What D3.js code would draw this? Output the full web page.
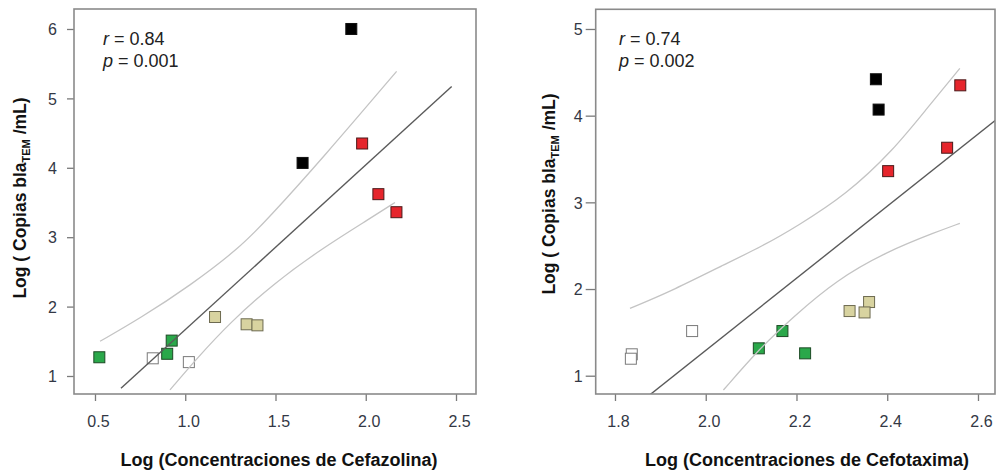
<!DOCTYPE html>
<html>
<head>
<meta charset="utf-8">
<script src="https://cdn.jsdelivr.net/npm/d3@7"></script>
<style>
  html, body { margin: 0; padding: 0; background: #fff; }
  svg { display: block; font-family: "Liberation Sans", Arial, sans-serif; }
  .tick text { fill: #333845; font-size: 16px; }
  .tick line { stroke: #7a7a7a; stroke-width: 1.3; }
</style>
</head>
<body>
<div id="root"></div>
<script>
// Panel A: Cefazolina
const cefazolinaLog = [1.92, 1.65, 1.98, 2.07, 2.17, 1.165, 1.34, 1.40, 0.524, 0.90, 0.925, 0.82, 1.02];
const copiasA       = [6.00, 4.07, 4.35, 3.62, 3.36, 1.85, 1.745, 1.73, 1.27, 1.32, 1.51, 1.255, 1.20];
const grupoA        = ["negro","negro","rojo","rojo","rojo","beige","beige","beige","verde","verde","verde","blanco","blanco"];
const ajusteAX = [0.644, 2.476];
const ajusteAY = [0.823, 5.17];
const bandaSupAX = [0.528, 0.749, 1.026, 1.303, 1.453, 1.765, 2.171];
const bandaSupAY = [1.50, 1.83, 2.30, 2.85, 3.25, 4.15, 5.39];
const bandaInfAX = [0.9155, 1.063, 1.248, 1.488, 1.765, 2.024, 2.162];
const bandaInfAY = [0.80, 1.25, 1.77, 2.33, 2.85, 3.27, 3.50];
const ticksAX = [0.5, 1.0, 1.5, 2.0, 2.5];
const ticksAY = [1, 2, 3, 4, 5, 6];

// Panel B: Cefotaxima
const cefotaximaLog = [2.375, 2.381, 2.561, 2.532, 2.402, 2.317, 2.36, 2.35, 2.117, 2.169, 2.219, 1.970, 1.837, 1.835];
const copiasB       = [4.42, 4.07, 4.35, 3.63, 3.36, 1.746, 1.85, 1.73, 1.316, 1.515, 1.258, 1.515, 1.247, 1.196];
const grupoB        = ["negro","negro","rojo","rojo","rojo","beige","beige","beige","verde","verde","verde","blanco","blanco","blanco"];
const ajusteBX = [1.877, 2.639];
const ajusteBY = [0.78, 3.95];
const bandaSupBX = [1.833, 1.921, 2.031, 2.127, 2.2, 2.31, 2.413, 2.487, 2.56];
const bandaSupBY = [1.777, 1.969, 2.257, 2.50, 2.72, 3.09, 3.60, 4.08, 4.546];
const bandaInfBX = [2.039, 2.119, 2.193, 2.288, 2.398, 2.509, 2.56];
const bandaInfBY = [0.835, 1.316, 1.68, 2.104, 2.43, 2.66, 2.758];
const ticksBX = [1.8, 2.0, 2.2, 2.4, 2.6];
const ticksBY = [1, 2, 3, 4, 5];

const colores = { negro: "#000000", rojo: "#e6252c", beige: "#d8d3a0", verde: "#2aa84a", blanco: "#ffffff" };
const bordes  = { negro: "#111111", rojo: "#4a1a1a", beige: "#6d6a50", verde: "#1d4a25", blanco: "#7a7a7a" };

const W = 996, H = 473;
const svg = d3.select('#root').append('svg')
  .attr('width', W)
  .attr('height', H);

function zip(xs, ys) { return xs.map((x, i) => [x, ys[i]]); }

function drawPanel(o) {
  const x = d3.scaleLinear().domain(o.xDomain).range([o.left, o.right]);
  const y = d3.scaleLinear().domain(o.yDomain).range([o.bottom, o.top]);
  const g = svg.append('g').attr('class', 'panel');

  g.append('clipPath').attr('id', o.id + '-clip')
    .append('rect')
    .attr('x', o.left).attr('y', o.top)
    .attr('width', o.right - o.left).attr('height', o.bottom - o.top);

  // axes (ticks only, box drawn separately)
  const yAxis = d3.axisLeft(y).tickValues(o.yTicks).tickFormat(d3.format('d'))
    .tickSize(o.yTickSize).tickPadding(o.yTickPad);
  g.append('g').attr('transform', 'translate(' + o.left + ',0)').call(yAxis)
    .call(s => s.select('.domain').remove())
    .selectAll('text').attr('dy', '0.36em');

  const xAxis = d3.axisBottom(x).tickValues(o.xTicks).tickFormat(d3.format('.1f'))
    .tickSize(7).tickPadding(15);
  g.append('g').attr('transform', 'translate(0,' + o.bottom + ')').call(xAxis)
    .call(s => s.select('.domain').remove())
    .selectAll('text').attr('dx', 3);

  // points
  const pts = o.xs.map((v, i) => ({ x: v, y: o.ys[i], grupo: o.grupos[i] }));
  g.append('g').selectAll('rect.pt')
    .data(pts)
    .enter().append('rect')
    .attr('class', 'pt')
    .attr('x', d => x(d.x) - 5.5)
    .attr('y', d => y(d.y) - 5.5)
    .attr('width', 11)
    .attr('height', 11)
    .attr('fill', d => colores[d.grupo])
    .attr('stroke', d => bordes[d.grupo])
    .attr('stroke-width', 1);

  const line = d3.line().x(d => x(d[0])).y(d => y(d[1]));
  const curve = d3.line().x(d => x(d[0])).y(d => y(d[1])).curve(d3.curveBasis);

  const lines = g.append('g').attr('clip-path', 'url(#' + o.id + '-clip)');
  lines.append('path').datum(zip(o.supX, o.supY))
    .attr('d', curve).attr('fill', 'none')
    .attr('stroke', '#c4c4c4').attr('stroke-width', 1.3);
  lines.append('path').datum(zip(o.infX, o.infY))
    .attr('d', curve).attr('fill', 'none')
    .attr('stroke', '#c4c4c4').attr('stroke-width', 1.3);
  lines.append('path').datum(zip(o.fitX, o.fitY))
    .attr('d', line).attr('fill', 'none')
    .attr('stroke', '#5a5a5a').attr('stroke-width', 1.4);

  // box
  g.append('rect')
    .attr('x', o.left).attr('y', o.top)
    .attr('width', o.right - o.left).attr('height', o.bottom - o.top)
    .attr('fill', 'none').attr('stroke', '#8a8a8a').attr('stroke-width', 1.6);

  // r / p
  const ann = g.append('g').attr('font-size', 18).attr('fill', '#222');
  const t1 = ann.append('text').attr('x', o.annX).attr('y', 45);
  t1.append('tspan').attr('font-style', 'italic').text('r');
  t1.append('tspan').text(' = ' + o.r);
  const t2 = ann.append('text').attr('x', o.annX).attr('y', 67);
  t2.append('tspan').attr('font-style', 'italic').text('p');
  t2.append('tspan').text(' = ' + o.p);

  // axis titles
  g.append('text')
    .attr('x', o.xTitleX).attr('y', 466)
    .attr('text-anchor', 'middle')
    .attr('font-weight', 'bold').attr('font-size', 18).attr('fill', '#111')
    .text(o.xTitle);

  const yt = g.append('text')
    .attr('transform', 'translate(' + o.yTitleX + ',' + o.yTitleY + ') rotate(-90)')
    .attr('text-anchor', 'middle')
    .attr('font-weight', 'bold').attr('font-size', 17.5).attr('fill', '#111');
  yt.append('tspan').text('Log ( Copias bla');
  yt.append('tspan').attr('font-size', 11).attr('dy', 4).text('TEM');
  yt.append('tspan').attr('dy', -4).text(' /mL)');
}

drawPanel({
  id: 'a', left: 74, right: 476, top: 9, bottom: 394,
  xDomain: [0.3837, 2.6108], yDomain: [0.7406, 6.288],
  xTicks: ticksAX, yTicks: ticksAY, yTickSize: 7, yTickPad: 10,
  xs: cefazolinaLog, ys: copiasA, grupos: grupoA,
  fitX: ajusteAX, fitY: ajusteAY,
  supX: bandaSupAX, supY: bandaSupAY, infX: bandaInfAX, infY: bandaInfAY,
  r: '0.84', p: '0.001', annX: 103,
  xTitle: 'Log (Concentraciones de Cefazolina)', xTitleX: 279,
  yTitleX: 26, yTitleY: 198
});

drawPanel({
  id: 'b', left: 595.7, right: 995, top: 9.3, bottom: 394,
  xDomain: [1.7575, 2.6375], yDomain: [0.789, 5.227],
  xTicks: ticksBX, yTicks: ticksBY, yTickSize: 10, yTickPad: 3,
  xs: cefotaximaLog, ys: copiasB, grupos: grupoB,
  fitX: ajusteBX, fitY: ajusteBY,
  supX: bandaSupBX, supY: bandaSupBY, infX: bandaInfBX, infY: bandaInfBY,
  r: '0.74', p: '0.002', annX: 619,
  xTitle: 'Log (Concentraciones de Cefotaxima)', xTitleX: 807,
  yTitleX: 555, yTitleY: 194
});
</script>
</body>
</html>
